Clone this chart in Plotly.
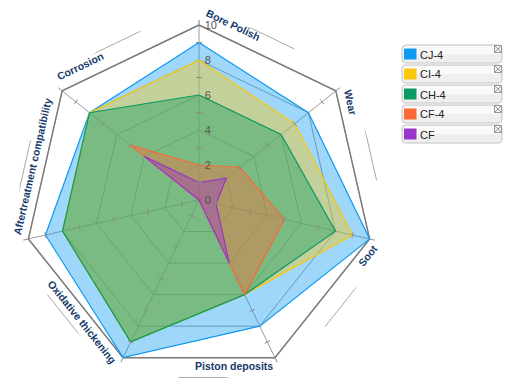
import math
import plotly.graph_objects as go

# ---------------- data ----------------
categories = ["Bore Polish", "Wear", "Soot", "Piston deposits",
              "Oxidative thickening", "Aftertreatment compatibility", "Corrosion"]
series_names = ["CJ-4", "CI-4", "CH-4", "CF-4", "CF"]
cj4 = [9, 8, 10, 8, 10, 9, 8]
ci4 = [8, 7, 9, 6, 9, 8, 8]
ch4 = [6, 6, 8, 6, 9, 8, 8]
cf4 = [2, 3, 5, 6, 0, 0, 5]
cf = [1, 2, 1, 4, 0, 0, 4]
radial_ticks = [0, 2, 4, 6, 8, 10]
minor_ticks = [1, 3, 5, 7, 9]
series_values = [cj4, ci4, ch4, cf4, cf]

# ---------------- style ----------------
colors = ["#0f9bf2", "#fcc60a", "#0d9a63", "#fb6a34", "#9a35c9"]
FILL_ALPHA = 0.4
GRID = "#9c9c9c"
FRAME = "#7c7c7c"
LABEL_COLOR = "#163a6b"
FONT = "Liberation Sans, Arial, sans-serif"

W, H = 505, 384
CX, CY = 199, 200          # radar centre (px)
PX_PER_UNIT = 17.5
R_DOMAIN = 180             # px radius of polar domain
RMAX = R_DOMAIN / PX_PER_UNIT
R_TAB = 197 / PX_PER_UNIT
TAB_FRAC = 0.62
N = len(categories)
STEP = 360.0 / N


def rgba(hexc, a):
    h = hexc.lstrip("#")
    return "rgba(%d,%d,%d,%.2f)" % (int(h[0:2], 16), int(h[2:4], 16), int(h[4:6], 16), a)


dom_x = [(CX - R_DOMAIN) / W, (CX + R_DOMAIN) / W]
dom_y = [1 - (CY + R_DOMAIN) / H, 1 - (CY - R_DOMAIN) / H]

fig = go.Figure()

# outer frame at max value
fig.add_trace(go.Scatterpolar(
    r=[radial_ticks[-1]] * (N + 1), theta=categories + [categories[0]],
    mode="lines", line=dict(color=FRAME, width=1.5),
    hoverinfo="skip", showlegend=False, subplot="polar"))

for name, vals, col in zip(series_names, series_values, colors):
    fig.add_trace(go.Scatterpolar(
        r=vals + [vals[0]], theta=categories + [categories[0]],
        name=name, mode="lines", fill="toself",
        fillcolor=rgba(col, FILL_ALPHA), line=dict(color=col, width=1.2),
        showlegend=False, subplot="polar"))


def unit(theta_deg):
    t = math.radians(theta_deg)
    return math.sin(t), math.cos(t)


# label tabs (spoke extensions + outer tab lines) on an overlay polar
tab_r, tab_t = [], []
for k in range(N):
    th = k * STEP
    ux, uy = unit(th)
    vx, vy = unit((k + 1) * STEP)
    px, py = R_TAB * ux, R_TAB * uy
    ex = px + TAB_FRAC * (R_TAB * vx - px)
    ey = py + TAB_FRAC * (R_TAB * vy - py)
    tab_r += [radial_ticks[-1], R_TAB, math.hypot(ex, ey), None]
    tab_t += [th, th, math.degrees(math.atan2(ex, ey)) % 360, None]
fig.add_trace(go.Scatterpolar(
    r=tab_r, theta=tab_t, mode="lines", line=dict(color="#a8a8a8", width=1),
    hoverinfo="skip", showlegend=False, cliponaxis=False, subplot="polar2"))

# minor tick marks on spokes
mt_r, mt_t = [], []
for k in range(N):
    th = k * STEP
    for m in minor_ticks:
        d = math.degrees(3.0 / (m * PX_PER_UNIT))
        mt_r += [m, m, None]
        mt_t += [th - d, th + d, None]
fig.add_trace(go.Scatterpolar(
    r=mt_r, theta=mt_t, mode="lines", line=dict(color="#8a8a8a", width=1),
    hoverinfo="skip", showlegend=False, cliponaxis=False, subplot="polar2"))

fig.update_layout(
    width=W, height=H, margin=dict(l=0, r=0, t=0, b=0),
    paper_bgcolor="white", plot_bgcolor="white", showlegend=False,
    font=dict(family=FONT),
    polar=dict(
        domain=dict(x=dom_x, y=dom_y), bgcolor="rgba(0,0,0,0)", gridshape="linear",
        radialaxis=dict(range=[0, RMAX], tickvals=radial_ticks, angle=90, tickangle=90,
                        side="clockwise", showline=False, ticks="outside", ticklen=3,
                        tickcolor="rgba(0,0,0,0)",
                        gridcolor=GRID, gridwidth=1,
                        tickfont=dict(size=11, color="#555555", family=FONT)),
        angularaxis=dict(direction="clockwise", rotation=90, showticklabels=False,
                         ticks="", showline=False, gridcolor=GRID, gridwidth=1),
    ),
    polar2=dict(
        domain=dict(x=dom_x, y=dom_y), bgcolor="rgba(0,0,0,0)",
        radialaxis=dict(range=[0, RMAX], visible=False),
        angularaxis=dict(direction="clockwise", rotation=90, visible=False),
    ),
)

# ---------------- category labels in the tabs ----------------
CW = {"A": 722, "B": 722, "C": 722, "O": 778, "P": 667, "S": 667, "W": 944,
      "a": 556, "b": 611, "c": 556, "d": 611, "e": 556, "f": 333, "g": 611,
      "h": 611, "i": 278, "k": 556, "l": 278, "m": 889, "n": 611, "o": 611,
      "p": 611, "r": 389, "s": 556, "t": 333, "u": 611, "v": 556, "w": 778,
      "x": 556, "y": 556, " ": 278}
LBL_SIZE = 10.5
R10 = radial_ticks[-1] * PX_PER_UNIT


def vpx(k):
    ux, uy = unit(k * STEP)
    return CX + R10 * ux, CY - R10 * uy


annotations = []
for k, cat in enumerate(categories):
    x0, y0 = vpx(k)
    x1, y1 = vpx((k + 1) % N)
    L = math.hypot(x1 - x0, y1 - y0)
    dx, dy = (x1 - x0) / L, (y1 - y0) / L
    nx, ny = dy, -dx
    mx, my = (x0 + x1) / 2 - CX, (y0 + y1) / 2 - CY
    if nx * mx + ny * my < 0:
        nx, ny = -nx, -ny
    w = sum(CW.get(c, 600) for c in cat) / 1000.0 * LBL_SIZE
    along = 2 + w / 2
    off = 11.5 - 3.5 * ny
    tx = x0 + dx * along + nx * off
    ty = y0 + dy * along + ny * off
    ang = math.degrees(math.atan2(dy, dx))
    if ang > 90.5 or ang < -90.5:
        ang = ang - 180 if ang > 0 else ang + 180
    annotations.append(dict(
        x=tx / W, y=1 - ty / H, xref="paper", yref="paper", showarrow=False,
        text="<b>%s</b>" % cat, textangle=ang, xanchor="center", yanchor="middle",
        font=dict(size=LBL_SIZE, color=LABEL_COLOR, family=FONT)))

# ---------------- legend (boxed items) ----------------
shapes = []
LEG_X0, LEG_X1 = 402, 502
LEG_Y0, LEG_DY, LEG_H = 54, 20, 18


def px2p(x, y):
    return x / W, 1 - y / H


def rounded_rect(x0, y0, x1, y1, r):
    def P(x, y):
        a, b = px2p(x, y)
        return "%.5f,%.5f" % (a, b)
    path = "M" + P(x0 + r, y0) + " L" + P(x1 - r, y0) + " Q" + P(x1, y0) + " " + P(x1, y0 + r)
    path += " L" + P(x1, y1 - r) + " Q" + P(x1, y1) + " " + P(x1 - r, y1)
    path += " L" + P(x0 + r, y1) + " Q" + P(x0, y1) + " " + P(x0, y1 - r)
    path += " L" + P(x0, y0 + r) + " Q" + P(x0, y0) + " " + P(x0 + r, y0) + " Z"
    return path


for i, (name, col) in enumerate(zip(series_names, colors)):
    cy = LEG_Y0 + i * LEG_DY
    top, bot = cy - LEG_H / 2, cy + LEG_H / 2
    shapes.append(dict(type="path", xref="paper", yref="paper",
                       path=rounded_rect(LEG_X0, top, LEG_X1, bot, 4),
                       fillcolor="#efefef", line=dict(color="#c4c4c4", width=1)))
    shapes.append(dict(type="path", xref="paper", yref="paper",
                       path=rounded_rect(LEG_X0 + 1, top + 1, LEG_X1 - 1, cy, 3),
                       fillcolor="#fafafa", line=dict(width=0)))
    a0, b0 = px2p(404, cy - 5.5)
    a1, b1 = px2p(416.5, cy + 5.5)
    shapes.append(dict(type="rect", xref="paper", yref="paper",
                       x0=a0, x1=a1, y0=b1, y1=b0, fillcolor=col, line=dict(width=0)))
    c0x, c0y = px2p(494.5, top + 0.5)
    c1x, c1y = px2p(501.5, top + 7.5)
    shapes.append(dict(type="rect", xref="paper", yref="paper",
                       x0=c0x, x1=c1x, y0=c1y, y1=c0y, fillcolor="#f4f4f4",
                       line=dict(color="#9a9a9a", width=1)))
    shapes.append(dict(type="line", xref="paper", yref="paper",
                       x0=c0x, x1=c1x, y0=c0y, y1=c1y, line=dict(color="#9a9a9a", width=1)))
    shapes.append(dict(type="line", xref="paper", yref="paper",
                       x0=c0x, x1=c1x, y0=c1y, y1=c0y, line=dict(color="#9a9a9a", width=1)))
    tx, ty = px2p(418, cy + 0.5)
    annotations.append(dict(x=tx, y=ty, xref="paper", yref="paper", showarrow=False,
                            text=name, xanchor="left", yanchor="middle",
                            font=dict(size=11, color="#222222", family=FONT)))

fig.update_layout(annotations=annotations, shapes=shapes)
fig.write_html("out.html", config={"displayModeBar": False},
               post_script="document.body.style.margin='0';document.body.style.overflow='hidden';")
